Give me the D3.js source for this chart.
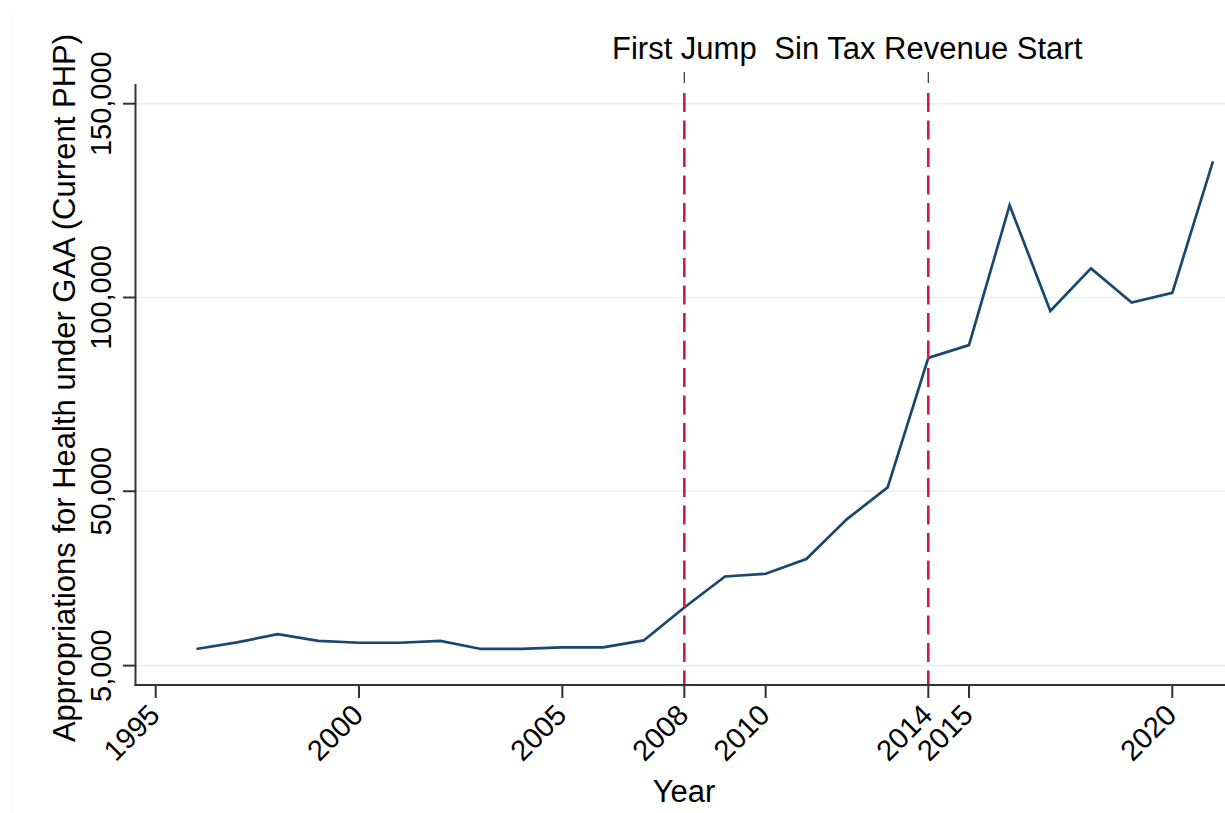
<!DOCTYPE html>
<html>
<head>
<meta charset="utf-8">
<script src="https://cdn.jsdelivr.net/npm/d3@7"></script>
<style>
  html, body { margin: 0; padding: 0; background: #fff; }
  svg { display: block; }
  text { font-family: "Liberation Sans", Arial, sans-serif; fill: #000; }
</style>
</head>
<body>
<svg id="chart" width="1225" height="813"></svg>
<script>
// ---- data ----
const years = [1996,1997,1998,1999,2000,2001,2002,2003,2004,2005,2006,2007,2008,2009,2010,2011,2012,2013,2014,2015,2016,2017,2018,2019,2020,2021];
const appropriations = [9300,11000,13100,11400,10900,10900,11400,9300,9300,9700,9700,11500,20000,28000,28700,32500,42800,51000,84400,87700,123800,96500,107500,98700,101200,135100];
const xTickValues = [1995,2000,2005,2008,2010,2014,2015,2020];
const yTickValues = [5000,50000,100000,150000];
const markerYears = [2008,2014];
const markerLabels = ["First Jump","Sin Tax Revenue Start"];
const xTitle = "Year";
const yTitle = "Appropriations for Health under GAA (Current PHP)";

// ---- layout ----
const svg = d3.select("#chart");
const axisLeftX = 135.5, axisBottomY = 685, plotTop = 84, plotRight = 1225;
const x = d3.scaleLinear().domain([1995, 2020]).range([155.7, 1172.3]);
const y = d3.scaleLinear().domain([0, 150000]).range([685, 103.7]);
const tickFont = 29, titleFont = 31;
const fmt = d3.format(",");

// faint outer border
svg.append("line").attr("x1", 12).attr("x2", 12).attr("y1", 13).attr("y2", 813)
  .attr("stroke", "#f3f3f3").attr("stroke-width", 1);

// gridlines
svg.append("g").selectAll("line").data(yTickValues).join("line")
  .attr("x1", axisLeftX).attr("x2", plotRight)
  .attr("y1", d => y(d)).attr("y2", d => y(d))
  .attr("stroke", "#e8f0f2").attr("stroke-width", 1.6);

// series line
const line = d3.line().x((d, i) => x(years[i])).y(d => y(d));
svg.append("path").datum(appropriations)
  .attr("d", line).attr("fill", "none")
  .attr("stroke", "#1a476f").attr("stroke-width", 2.7)
  .attr("stroke-linejoin", "miter");

// vertical dashed markers
svg.append("g").selectAll("line").data(markerYears).join("line")
  .attr("x1", d => x(d)).attr("x2", d => x(d))
  .attr("y1", 93).attr("y2", axisBottomY)
  .attr("stroke", "#cf1b4b").attr("stroke-width", 2.6)
  .attr("stroke-dasharray", "19,8.5");

// top ticks and labels
svg.append("g").selectAll("line").data(markerYears).join("line")
  .attr("x1", d => x(d)).attr("x2", d => x(d))
  .attr("y1", 72).attr("y2", 83)
  .attr("stroke", "#333").attr("stroke-width", 1.2);
svg.append("g").selectAll("text").data(markerYears).join("text")
  .attr("x", d => x(d)).attr("y", 59)
  .attr("text-anchor", "middle").attr("font-size", titleFont)
  .text((d, i) => markerLabels[i]);

// left axis
svg.append("line").attr("x1", axisLeftX).attr("x2", axisLeftX)
  .attr("y1", plotTop).attr("y2", axisBottomY + 1)
  .attr("stroke", "#333").attr("stroke-width", 2);
svg.append("g").selectAll("line").data(yTickValues).join("line")
  .attr("x1", 123).attr("x2", axisLeftX)
  .attr("y1", d => y(d)).attr("y2", d => y(d))
  .attr("stroke", "#333").attr("stroke-width", 2);
svg.append("g").selectAll("text").data(yTickValues).join("text")
  .attr("transform", d => `translate(110.5,${y(d)}) rotate(-90)`)
  .attr("text-anchor", "middle").attr("font-size", tickFont)
  .text(d => fmt(d));

// bottom axis
svg.append("line").attr("x1", axisLeftX - 1).attr("x2", plotRight)
  .attr("y1", axisBottomY).attr("y2", axisBottomY)
  .attr("stroke", "#333").attr("stroke-width", 2);
svg.append("g").selectAll("line").data(xTickValues).join("line")
  .attr("x1", d => x(d)).attr("x2", d => x(d))
  .attr("y1", axisBottomY).attr("y2", 698)
  .attr("stroke", "#333").attr("stroke-width", 2);
svg.append("g").selectAll("text").data(xTickValues).join("text")
  .attr("transform", d => `translate(${x(d) - 9},702) rotate(-45)`)
  .attr("text-anchor", "end").attr("dy", "0.72em").attr("font-size", tickFont)
  .text(d => d);

// axis titles
svg.append("text").attr("x", 684).attr("y", 802)
  .attr("text-anchor", "middle").attr("font-size", titleFont).text(xTitle);
svg.append("text").attr("transform", "translate(75,388) rotate(-90)")
  .attr("text-anchor", "middle").attr("font-size", titleFont).text(yTitle);
</script>
</body>
</html>
